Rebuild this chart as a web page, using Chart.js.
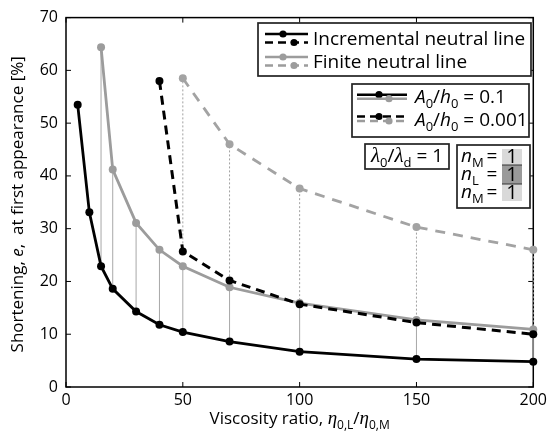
<!DOCTYPE html>
<html>
<head>
  <title>Shortening at first appearance</title>
  <script src="https://cdn.jsdelivr.net/npm/chart.js"></script>
  <style>
    body { margin: 0; background: #fff; }
    .wrap { width: 551px; height: 434px; }
  </style>
</head>
<body>
  <div class="wrap"><canvas id="shortChart" width="551" height="434"></canvas></div>

  <script>
    // viscosity ratios and shortening (%)
    const ratioInc01 = [5, 10, 15, 20, 30, 40, 50, 70, 100, 150, 200];
    const incNeutral01 = [53.5, 33.1, 22.9, 18.6, 14.3, 11.8, 10.4, 8.6, 6.7, 5.3, 4.8];
    const ratioFin01 = [15, 20, 30, 40, 50, 70, 100, 150, 200];
    const finNeutral01 = [64.4, 41.2, 31.1, 26.0, 22.9, 18.9, 15.9, 12.7, 10.9];
    const ratioInc0001 = [40, 50, 70, 100, 150, 200];
    const incNeutral0001 = [58.0, 25.7, 20.2, 15.7, 12.2, 10.0];
    const ratioFin0001 = [50, 70, 100, 150, 200];
    const finNeutral0001 = [58.5, 46.0, 37.6, 30.3, 26.0];
    const xTicks = [0, 50, 100, 150, 200];
    const yTicks = [0, 10, 20, 30, 40, 50, 60, 70];

    const FONT = '"Open Sans", "DejaVu Sans", sans-serif';
    const SERIF = '"Liberation Serif", "DejaVu Serif", serif';
    const GREY = '#9c9c9c';

    function points(xs, ys) {
      return xs.map((x, i) => ({ x: x, y: ys[i] }));
    }

    // vertical links between incremental and finite values at the same ratio
    function links(xsLow, ysLow, xsHigh, ysHigh) {
      const out = [];
      xsHigh.forEach((x, i) => {
        const j = xsLow.indexOf(x);
        if (j < 0) return;
        out.push({ x: x, y: ysLow[j] }, { x: x, y: ysHigh[i] }, { x: x, y: null });
      });
      return out;
    }

    // text with italics / subscripts; parts = [text, style] with style '', 'i', 'g' (greek), 's' (sub)
    function richText(ctx, parts, x, y, size, align) {
      const fontFor = st => {
        if (st === 'i') return 'italic ' + size + 'px ' + FONT;
        if (st === 'g') return 'italic ' + (size + 2) + 'px ' + SERIF;
        if (st === 's') return Math.round(size * 0.7) + 'px ' + FONT;
        return size + 'px ' + FONT;
      };
      let total = 0;
      parts.forEach(p => { ctx.font = fontFor(p[1]); total += ctx.measureText(p[0]).width; });
      let cx = align === 'center' ? x - total / 2 : x;
      ctx.textAlign = 'left';
      ctx.textBaseline = 'alphabetic';
      parts.forEach(p => {
        ctx.font = fontFor(p[1]);
        const dy = p[1] === 's' ? size * 0.28 : 0;
        ctx.fillText(p[0], cx, y + dy);
        cx += ctx.measureText(p[0]).width;
      });
    }

    function seg(ctx, x1, y1, x2, y2) {
      ctx.beginPath();
      ctx.moveTo(x1, y1);
      ctx.lineTo(x2, y2);
      ctx.stroke();
    }

    function dot(ctx, x, y, r, col) {
      ctx.fillStyle = col;
      ctx.beginPath();
      ctx.arc(x, y, r, 0, Math.PI * 2);
      ctx.fill();
    }

    function box(ctx, l, t, r, b) {
      ctx.fillStyle = '#fff';
      ctx.fillRect(l, t, r - l, b - t);
      ctx.strokeStyle = '#222';
      ctx.lineWidth = 1.7;
      ctx.strokeRect(l, t, r - l, b - t);
    }

    function symbol(ctx, x1, x2, y, col, dashed, dotX) {
      ctx.strokeStyle = col;
      ctx.lineWidth = 2.6;
      ctx.setLineDash(dashed ? [8, 5] : []);
      seg(ctx, x1, y, x2, y);
      ctx.setLineDash([]);
      dot(ctx, dotX, y, 3.6, col);
    }

    const framePlugin = {
      id: 'framePlugin',
      beforeDatasetsDraw(chart) {
        const { ctx, chartArea: a, scales: { x, y } } = chart;
        ctx.save();
        ctx.strokeStyle = '#000';
        ctx.lineWidth = 1.5;
        ctx.strokeRect(a.left, a.top, a.right - a.left, a.bottom - a.top);
        ctx.lineWidth = 1;
        xTicks.forEach(v => {
          const px = x.getPixelForValue(v);
          seg(ctx, px, a.bottom, px, a.bottom - 5);
          seg(ctx, px, a.top, px, a.top + 5);
        });
        yTicks.forEach(v => {
          const py = y.getPixelForValue(v);
          seg(ctx, a.left, py, a.left + 5, py);
          seg(ctx, a.right, py, a.right - 5, py);
        });
        ctx.restore();
      },
      afterDraw(chart) {
        const { ctx, chartArea: a } = chart;
        ctx.save();
        ctx.fillStyle = '#000';

        // axis titles
        richText(ctx, [['Viscosity ratio, ', ''], ['η', 'g'], ['0,L', 's'], ['/', ''], ['η', 'g'], ['0,M', 's']],
          (a.left + a.right) / 2, 424, 17, 'center');
        ctx.save();
        ctx.translate(23, (a.top + a.bottom) / 2 + 2);
        ctx.rotate(-Math.PI / 2);
        ctx.fillStyle = '#000';
        richText(ctx, [['Shortening, ', ''], ['e', 'i'], [',  at first appearance [%]', '']], 0, 0, 17, 'center');
        ctx.restore();

        // legend 1: line type
        box(ctx, 258, 23, 531, 76);
        symbol(ctx, 265, 308, 34, '#000', false, 283);
        symbol(ctx, 265, 308, 42.5, '#000', true, 294);
        symbol(ctx, 265, 308, 57, GREY, false, 283);
        symbol(ctx, 265, 308, 65.5, GREY, true, 294);
        ctx.fillStyle = '#000';
        richText(ctx, [['Incremental neutral line', '']], 313, 45, 19, 'left');
        richText(ctx, [['Finite neutral line', '']], 313, 68, 19, 'left');

        // legend 2: amplitude
        box(ctx, 352, 84, 529, 137);
        symbol(ctx, 357, 407, 94.7, '#000', false, 379);
        symbol(ctx, 357, 407, 98.7, GREY, false, 389);
        symbol(ctx, 357, 407, 116.5, '#000', true, 379);
        symbol(ctx, 357, 407, 121, GREY, true, 389);
        ctx.fillStyle = '#000';
        richText(ctx, [['A', 'i'], ['0', 's'], ['/', ''], ['h', 'i'], ['0', 's'], [' = 0.1', '']], 415, 103, 19, 'left');
        richText(ctx, [['A', 'i'], ['0', 's'], ['/', ''], ['h', 'i'], ['0', 's'], [' = 0.001', '']], 415, 126, 19, 'left');

        // wavelength ratio
        box(ctx, 365, 144, 449, 169);
        ctx.fillStyle = '#000';
        richText(ctx, [['λ', 'g'], ['0', 's'], ['/', ''], ['λ', 'g'], ['d', 's'], [' = 1', '']], 407, 162, 19, 'center');

        // power-law exponents
        box(ctx, 457, 145, 530, 208);
        ctx.fillStyle = '#d9d9d9';
        ctx.fillRect(502, 149, 20, 16);
        ctx.fillRect(502, 184, 20, 17);
        ctx.fillStyle = '#9a9a9a';
        ctx.fillRect(502, 165, 20, 19);
        ctx.strokeStyle = '#333';
        ctx.lineWidth = 1;
        seg(ctx, 502, 165, 522, 165);
        seg(ctx, 502, 184, 522, 184);
        ctx.fillStyle = '#000';
        [['M', 162], ['L', 180], ['M', 198]].forEach(r => {
          richText(ctx, [['n', 'i'], [r[0], 's']], 461, r[1], 19, 'left');
          richText(ctx, [['=', '']], 492, r[1], 19, 'center');
          richText(ctx, [['1', '']], 512, r[1] + 1, 20, 'center');
        });
        ctx.restore();
      }
    };

    const lineStyle = (col, width, dash) => ({
      borderColor: col,
      backgroundColor: col,
      pointBackgroundColor: col,
      pointBorderWidth: 0,
      pointRadius: 4,
      borderWidth: width,
      borderDash: dash,
      tension: 0,
      clip: false
    });

    new Chart(document.getElementById('shortChart'), {
      type: 'line',
      data: {
        datasets: [
          Object.assign({ label: 'Incremental, A0/h0 = 0.1', data: points(ratioInc01, incNeutral01) }, lineStyle('#000', 2.8, [])),
          Object.assign({ label: 'Incremental, A0/h0 = 0.001', data: points(ratioInc0001, incNeutral0001) }, lineStyle('#000', 3, [9, 6])),
          Object.assign({ label: 'Finite, A0/h0 = 0.1', data: points(ratioFin01, finNeutral01) }, lineStyle(GREY, 2.8, [])),
          Object.assign({ label: 'Finite, A0/h0 = 0.001', data: points(ratioFin0001, finNeutral0001) }, lineStyle('#a3a3a3', 2.8, [10, 8])),
          {
            label: 'links 0.1',
            data: links(ratioInc01, incNeutral01, ratioFin01, finNeutral01),
            borderColor: '#a8a8a8',
            borderWidth: 1,
            pointRadius: 0,
            spanGaps: false,
            clip: false
          },
          {
            label: 'links 0.001',
            data: links(ratioInc0001, incNeutral0001, ratioFin0001, finNeutral0001),
            borderColor: '#a0a0a0',
            borderWidth: 1,
            borderDash: [2, 2],
            pointRadius: 0,
            spanGaps: false,
            clip: false
          }
        ]
      },
      options: {
        responsive: false,
        animation: false,
        devicePixelRatio: 1,
        layout: { padding: { top: 16, right: 12, left: 0, bottom: 0 } },
        plugins: { legend: { display: false }, tooltip: { enabled: false } },
        scales: {
          x: {
            type: 'linear',
            min: 0,
            max: 200,
            afterFit: s => { s.height = 47; },
            afterBuildTicks: s => { s.ticks = xTicks.map(v => ({ value: v })); },
            grid: { display: false, drawTicks: false },
            border: { display: false },
            ticks: { color: '#000', padding: 4, maxRotation: 0, font: { family: FONT, size: 16 } }
          },
          y: {
            min: 0,
            max: 70,
            afterFit: s => { s.width = 66; },
            afterBuildTicks: s => { s.ticks = yTicks.map(v => ({ value: v })); },
            grid: { display: false, drawTicks: false },
            border: { display: false },
            ticks: { color: '#000', padding: 8, font: { family: FONT, size: 16 } }
          }
        }
      },
      plugins: [framePlugin]
    });
  </script>
</body>
</html>
